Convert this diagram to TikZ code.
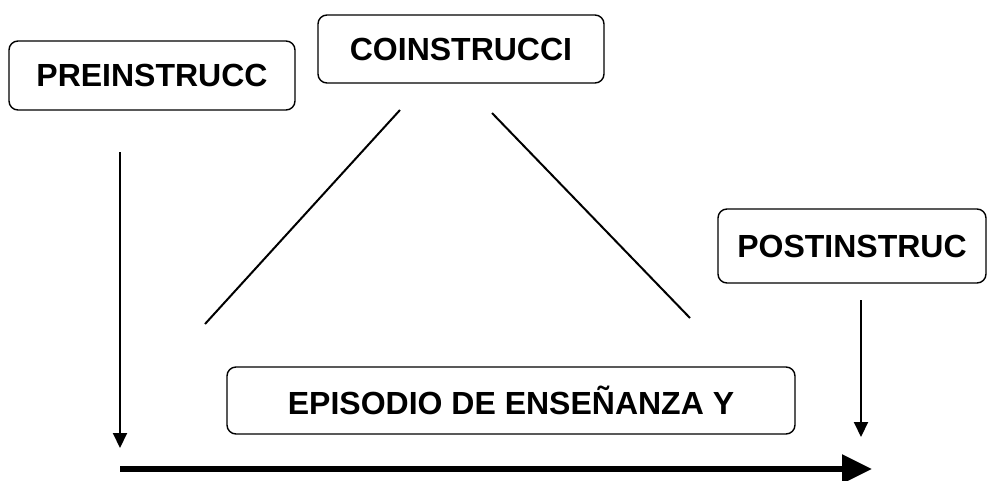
\documentclass[tikz,border=0pt]{standalone}
\usepackage{fontspec}
\setmainfont{Liberation Sans}
\usetikzlibrary{arrows.meta}
\begin{document}
\begin{tikzpicture}[x=1pt,y=-1pt,
  lbl/.style={draw, rounded corners=9pt, line width=1.4pt, inner sep=0pt,
    font=\fontsize{32}{38}\selectfont\bfseries},
  conn/.style={line width=2pt},
  arr/.style={line width=2pt, -{Triangle[length=15pt,width=14pt]}},
  bigarr/.style={line width=5.5pt, -{Triangle[length=30pt,width=28pt]}}]
\useasboundingbox (0,0) rectangle (988,480);
\node[lbl, minimum width=286pt, minimum height=69pt] (pre) at (152,75.5) {PREINSTRUCC};
\node[lbl, minimum width=286pt, minimum height=68pt] (co) at (461,49) {COINSTRUCCI};
\node[lbl, minimum width=268pt, minimum height=74pt] (post) at (852,246) {POSTINSTRUC};
\node[lbl, minimum width=568pt, minimum height=67pt] (epi) at (511,400.5) {EPISODIO DE ENSEÑANZA Y};
\coordinate (a1) at (120,152);
\coordinate (a2) at (120,448);
\coordinate (b1) at (861,300);
\coordinate (b2) at (861,437);
\coordinate (h1) at (120,469);
\coordinate (h2) at (872,469);
\coordinate (l1) at (400,110);
\coordinate (l2) at (205,324);
\coordinate (r1) at (492,113);
\coordinate (r2) at (690,318);
\draw[arr] (a1) -- (a2);
\draw[arr] (b1) -- (b2);
\draw[bigarr] (h1) -- (h2);
\draw[conn] (l1) -- (l2);
\draw[conn] (r1) -- (r2);
\end{tikzpicture}
\end{document}
